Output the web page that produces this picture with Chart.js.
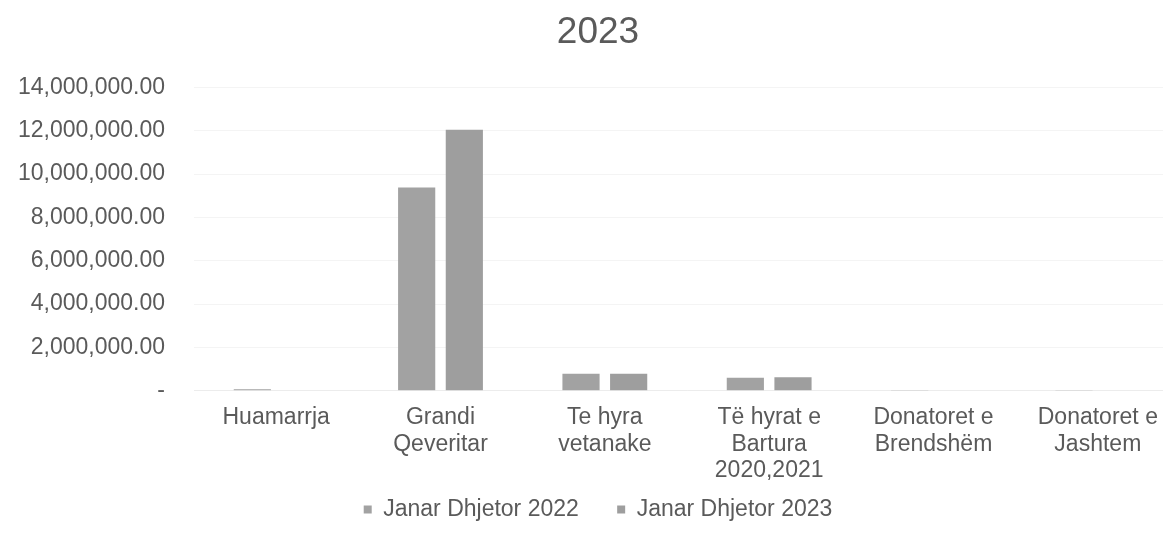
<!DOCTYPE html>
<html>
<head>
<meta charset="utf-8">
<script src="https://cdn.jsdelivr.net/npm/chart.js@4"></script>
<style>
  html, body { margin: 0; padding: 0; background: #fff; overflow: hidden; }
  #wrap { width: 1200px; height: 533px; position: relative; }
</style>
</head>
<body>
<div id="wrap"><canvas id="c"></canvas></div>
<script>
// chart data
const categories = [
  'Huamarrja',
  ['Grandi', 'Qeveritar'],
  ['Te hyra', 'vetanake'],
  ['Të hyrat e', 'Bartura', '2020,2021'],
  ['Donatoret e', 'Brendshëm'],
  ['Donatoret e', 'Jashtem']
];
const series2022 = [60000, 9380000, 780000, 600000, 30000, 10000];
const series2023 = [0, 12050000, 780000, 620000, 0, 0];
const seriesNames = ['Janar Dhjetor 2022', 'Janar Dhjetor 2023'];
const yTicks = { min: 0, max: 14000000, step: 2000000 };

const fmt = v => v === 0 ? '-' : v.toLocaleString('en-US', { minimumFractionDigits: 2, maximumFractionDigits: 2 });
const font = 'Liberation Sans, Arial, sans-serif';
const textColor = '#5a5a5a';

new Chart(document.getElementById('c'), {
  type: 'bar',
  data: {
    labels: categories,
    datasets: [
      { label: seriesNames[0], data: series2022, backgroundColor: '#a2a2a2' },
      { label: seriesNames[1], data: series2023, backgroundColor: '#9e9e9e' }
    ]
  },
  options: {
    responsive: true,
    maintainAspectRatio: false,
    animation: false,
    layout: { padding: { top: 0, right: 20, left: 16, bottom: 2 } },
    datasets: { bar: { categoryPercentage: 0.58, barPercentage: 0.78 } },
    plugins: {
      title: {
        display: true, text: '2023', color: textColor,
        font: { family: font, size: 37, weight: 'normal' },
        padding: { top: 11, bottom: 32 }
      },
      legend: {
        position: 'bottom',
        labels: {
          color: textColor, boxWidth: 8, boxHeight: 8, padding: 0,
          font: { family: font, size: 23 },
          // no vertical padding, so space the two entries apart with blanks
          generateLabels: chart => {
            const items = Chart.defaults.plugins.legend.labels.generateLabels(chart);
            items[0].text += '      ';
            return items;
          }
        }
      },
      tooltip: { enabled: false }
    },
    scales: {
      x: {
        grid: { display: false, drawTicks: false },
        border: { color: '#ececec' },
        ticks: {
          color: textColor, font: { family: font, size: 23, lineHeight: 1.15 },
          padding: 14, maxRotation: 0, autoSkip: false
        }
      },
      y: {
        min: yTicks.min, max: yTicks.max,
        grid: { color: '#f4f4f4', drawTicks: false },
        border: { display: false },
        afterFit: s => { s.width = 178; },
        ticks: {
          stepSize: yTicks.step, color: textColor, padding: 29,
          font: { family: font, size: 23 },
          callback: v => fmt(v)
        }
      }
    }
  }
});
</script>
</body>
</html>
